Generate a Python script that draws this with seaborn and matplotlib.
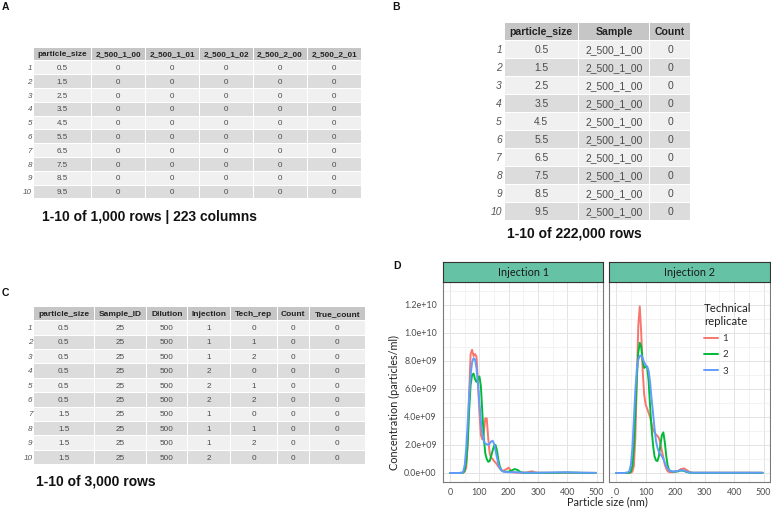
import matplotlib
matplotlib.use("Agg")
import matplotlib.pyplot as plt
import numpy as np
import pandas as pd
import seaborn as sns
from matplotlib.patches import Rectangle
from matplotlib.lines import Line2D
from matplotlib.ticker import MultipleLocator, FuncFormatter

W, H = 771, 511

# ---------------- Panel D data (concentration in units of 1e9 particles/ml) -----------
size_nm = [0, 10, 20, 30, 40, 45, 50, 55, 60, 65, 70, 75, 80, 85, 90, 95, 100, 105, 110,
           115, 120, 125, 130, 135, 140, 145, 150, 155, 160, 165, 170, 175, 180, 190, 200,
           210, 220, 230, 240, 250, 260, 270, 280, 290, 300, 350, 400, 450, 497]

inj1_rep1 = [0, 0, 0, 0, 0.01, 0.03, 0.1, 0.4, 2.0, 5.8, 8.5, 8.8, 8.35, 8.5, 8.3, 6.5, 4.3,
             2.7, 2.4, 2.9, 3.9, 3.9, 2.5, 1.4, 1.1, 1.0, 0.85, 0.75, 0.6, 0.45, 0.3, 0.2,
             0.15, 0.25, 0.38, 0.08, 0.03, 0.02, 0.02, 0.02, 0.03, 0.08, 0.12, 0.04, 0.02,
             0.01, 0.02, 0.01, 0.01]
inj1_rep2 = [0, 0, 0, 0, 0.01, 0.03, 0.2, 0.8, 2.2, 4.5, 6.3, 7.0, 7.1, 6.7, 6.5, 6.7, 6.9,
             6.2, 4.3, 2.5, 1.4, 1.0, 0.8, 0.85, 1.2, 1.6, 1.95, 2.0, 1.6, 0.9, 0.45, 0.2,
             0.12, 0.08, 0.1, 0.18, 0.28, 0.22, 0.06, 0.02, 0.01, 0.01, 0.01, 0.01, 0.01,
             0.01, 0.03, 0.01, 0]
inj1_rep3 = [0, 0, 0, 0, 0.02, 0.1, 0.6, 1.8, 3.6, 5.5, 7.0, 7.9, 8.2, 8.1, 7.5, 6.4, 5.0,
             3.7, 2.8, 2.3, 2.1, 2.05, 2.0, 2.1, 2.25, 2.3, 2.1, 1.6, 1.1, 0.6, 0.35, 0.2,
             0.12, 0.07, 0.05, 0.05, 0.06, 0.05, 0.03, 0.02, 0.02, 0.02, 0.02, 0.02, 0.02,
             0.04, 0.05, 0.02, 0.01]
inj2_rep1 = [0, 0, 0, 0, 0, 0, 0.02, 0.1, 0.5, 2.5, 6.5, 10.5, 11.9, 10.0, 7.3, 5.6, 4.9,
             4.6, 4.3, 4.0, 3.5, 3.1, 2.9, 2.75, 2.65, 2.5, 2.1, 1.6, 1.1, 0.6, 0.3, 0.12,
             0.06, 0.05, 0.08, 0.15, 0.28, 0.33, 0.2, 0.05, 0.02, 0.02, 0.02, 0.02, 0.02,
             0.02, 0.02, 0.02, 0.01]
inj2_rep2 = [0, 0, 0, 0, 0.01, 0.02, 0.1, 0.5, 1.8, 4.2, 6.8, 8.6, 9.3, 9.0, 8.0, 7.5, 7.6,
             7.6, 6.6, 4.8, 3.2, 2.0, 1.2, 0.9, 0.85, 1.2, 2.0, 2.7, 2.9, 2.2, 1.2, 0.5,
             0.2, 0.1, 0.1, 0.12, 0.18, 0.15, 0.06, 0.02, 0.01, 0.01, 0.01, 0.01, 0.01,
             0.01, 0.01, 0.01, 0.01]
inj2_rep3 = [0, 0, 0, 0.01, 0.05, 0.15, 0.6, 1.8, 3.8, 5.9, 7.4, 8.1, 8.35, 8.4, 8.2, 7.9,
             7.7, 7.6, 7.3, 6.5, 5.3, 4.3, 3.2, 2.3, 1.8, 1.5, 1.35, 1.2, 1.0, 0.75, 0.5,
             0.3, 0.18, 0.1, 0.12, 0.15, 0.2, 0.18, 0.08, 0.03, 0.02, 0.02, 0.02, 0.02,
             0.02, 0.02, 0.02, 0.02, 0.02]

injections = ["Injection 1", "Injection 2"]
replicates = ["1", "2", "3"]
rep_colors = ["#F8766D", "#00BA38", "#619CFF"]
y_label = "Concentration (particles/ml)"
x_label = "Particle size (nm)"

# ---------------- Table data ---------------------------------------------------------
row_numbers = ["1", "2", "3", "4", "5", "6", "7", "8", "9", "10"]

a_columns = ["particle_size", "2_500_1_00", "2_500_1_01", "2_500_1_02", "2_500_2_00", "2_500_2_01"]
a_particle_size = ["0.5", "1.5", "2.5", "3.5", "4.5", "5.5", "6.5", "7.5", "8.5", "9.5"]
a_counts = ["0", "0", "0", "0", "0", "0", "0", "0", "0", "0"]
a_caption = "1-10 of 1,000 rows | 223 columns"

b_columns = ["particle_size", "Sample", "Count"]
b_particle_size = ["0.5", "1.5", "2.5", "3.5", "4.5", "5.5", "6.5", "7.5", "8.5", "9.5"]
b_sample = ["2_500_1_00"] * 10
b_count = ["0", "0", "0", "0", "0", "0", "0", "0", "0", "0"]
b_caption = "1-10 of 222,000 rows"

c_columns = ["particle_size", "Sample_ID", "Dilution", "Injection", "Tech_rep", "Count", "True_count"]
c_particle_size = ["0.5", "0.5", "0.5", "0.5", "0.5", "0.5", "1.5", "1.5", "1.5", "1.5"]
c_sample_id = ["25", "25", "25", "25", "25", "25", "25", "25", "25", "25"]
c_dilution = ["500", "500", "500", "500", "500", "500", "500", "500", "500", "500"]
c_injection = ["1", "1", "1", "2", "2", "2", "1", "1", "1", "2"]
c_tech_rep = ["0", "1", "2", "0", "1", "2", "0", "1", "2", "0"]
c_count = ["0", "0", "0", "0", "0", "0", "0", "0", "0", "0"]
c_true_count = ["0", "0", "0", "0", "0", "0", "0", "0", "0", "0"]
c_caption = "1-10 of 3,000 rows"

# ---------------- Figure -------------------------------------------------------------
sns.set_theme(style="white")
plt.rcParams["font.family"] = ["Liberation Sans", "DejaVu Sans"]

fig = plt.figure(figsize=(W / 100, H / 100), dpi=100)
bg = fig.add_axes([0, 0, 1, 1])
bg.set_xlim(0, W)
bg.set_ylim(H, 0)
bg.axis("off")


def draw_table(col_edges, top, head_h, row_h, columns, cols_data, fs_h, fs_c, num_x, fs_n):
    for j, name in enumerate(columns):
        x0, x1 = col_edges[j], col_edges[j + 1]
        bg.add_patch(Rectangle((x0 + 0.5, top), x1 - x0 - 1, head_h - 1,
                               facecolor="#c6c6c6", edgecolor="none"))
        bg.text((x0 + x1) / 2, top + head_h / 2, name, ha="center", va="center",
                fontsize=fs_h, fontweight="bold", color="#222222")
    for i in range(len(row_numbers)):
        y0 = top + head_h + i * row_h
        face = "#f0f0f0" if i % 2 == 0 else "#dcdcdc"
        for j in range(len(columns)):
            x0, x1 = col_edges[j], col_edges[j + 1]
            bg.add_patch(Rectangle((x0 + 0.5, y0), x1 - x0 - 1, row_h - 1,
                                   facecolor=face, edgecolor="none"))
            bg.text((x0 + x1) / 2, y0 + row_h / 2, cols_data[j][i], ha="center",
                    va="center", fontsize=fs_c, color="#4a4a4a")
        bg.text(num_x, y0 + row_h / 2, row_numbers[i], ha="right", va="center",
                fontsize=fs_n, style="italic", color="#555555")


# Table A
draw_table([33, 91, 145, 199, 253, 307, 361], 48, 13.5, 13.8, a_columns,
           [a_particle_size, a_counts, a_counts, a_counts, a_counts, a_counts],
           5.9, 5.8, 32, 5.8)
bg.text(42, 217, a_caption, ha="left", va="center", fontsize=10, fontweight="bold", color="#111111")

# Table B
draw_table([504, 578.7, 649.3, 690.7], 23, 18, 18, b_columns,
           [b_particle_size, b_sample, b_count], 7.6, 7.4, 502, 7.4)
bg.text(574.5, 234, b_caption, ha="center", va="center", fontsize=10, fontweight="bold", color="#111111")

# Table C
draw_table([33.7, 94, 146.7, 187, 230, 277.3, 309.3, 365.3], 307, 14.3, 14.4, c_columns,
           [c_particle_size, c_sample_id, c_dilution, c_injection, c_tech_rep, c_count, c_true_count],
           6.0, 5.9, 32.5, 5.9)
bg.text(36, 482, c_caption, ha="left", va="center", fontsize=10, fontweight="bold", color="#111111")

# Panel letters
for letter, (lx, ly) in zip(["A", "B", "C", "D"], [(2, 7), (392, 7), (2, 293), (393, 266)]):
    bg.text(lx, ly, letter, ha="left", va="center", fontsize=7.5, fontweight="bold", color="#111111")

# ---------------- Panel D ------------------------------------------------------------
rows = []
series = {("Injection 1", "1"): inj1_rep1, ("Injection 1", "2"): inj1_rep2,
          ("Injection 1", "3"): inj1_rep3, ("Injection 2", "1"): inj2_rep1,
          ("Injection 2", "2"): inj2_rep2, ("Injection 2", "3"): inj2_rep3}
for (inj, rep), vals in series.items():
    for s, v in zip(size_nm, vals):
        rows.append({"Injection": inj, "Technical replicate": rep,
                     "Particle size": s, "Concentration": v * 1e9})
df = pd.DataFrame(rows)


def px_rect(x0, y0, x1, y1):
    return [x0 / W, 1 - y1 / H, (x1 - x0) / W, (y1 - y0) / H]


FONT_D = ["Lato", "DejaVu Sans"]
panel_px = [(443, 603), (609, 770)]
axes = []
for k, inj in enumerate(injections):
    x0, x1 = panel_px[k]
    ax = fig.add_axes(px_rect(x0, 282, x1, 482))
    sax = fig.add_axes(px_rect(x0, 262, x1, 282))
    sns.lineplot(data=df[df["Injection"] == inj], x="Particle size", y="Concentration",
                 hue="Technical replicate", hue_order=replicates, palette=rep_colors,
                 estimator=None, sort=False, linewidth=1.4, legend=False, ax=ax)
    ax.set_xlim(-24.3, 521.8)
    ax.set_ylim(-0.643e9, 13.64e9)
    ax.set_facecolor("white")
    ax.xaxis.set_major_locator(MultipleLocator(100))
    ax.xaxis.set_minor_locator(MultipleLocator(50))
    ax.yaxis.set_major_locator(MultipleLocator(2e9))
    ax.yaxis.set_minor_locator(MultipleLocator(1e9))
    ax.grid(which="major", color="#e4e4e4", linewidth=0.7)
    ax.grid(which="minor", color="#efefef", linewidth=0.5)
    ax.set_axisbelow(True)
    for sp in ax.spines.values():
        sp.set_visible(True)
        sp.set_color("#7a7a7a")
        sp.set_linewidth(0.8)
    ax.set_xlabel("")
    ax.set_ylabel("")
    ax.tick_params(axis="both", which="minor", length=0)
    ax.tick_params(axis="x", which="major", length=2.5, width=0.6, color="#444444",
                   labelsize=6.4, labelcolor="#4d4d4d", pad=2)
    for t in ax.get_xticklabels():
        t.set_family(FONT_D)
    if k == 0:
        ax.yaxis.set_major_formatter(FuncFormatter(lambda v, p: f"{v:.1e}"))
        ax.tick_params(axis="y", which="major", length=2.5, width=0.6, color="#444444",
                       labelsize=6.4, labelcolor="#4d4d4d", pad=2)
        for t in ax.get_yticklabels():
            t.set_family(FONT_D)
    else:
        ax.tick_params(axis="y", which="major", length=0, labelleft=False)
    # strip
    sax.set_xticks([])
    sax.set_yticks([])
    sax.set_facecolor("#66c2a5")
    for sp in sax.spines.values():
        sp.set_color("#333333")
        sp.set_linewidth(0.8)
    sax.text(0.5, 0.45, inj, transform=sax.transAxes, ha="center", va="center",
             fontsize=7.8, color="#1a1a1a", family=FONT_D)
    axes.append(ax)

# legend
handles = [Line2D([0], [0], color=c, lw=1.4) for c in rep_colors]
leg = axes[1].legend(handles, replicates, title="Technical\nreplicate", frameon=False,
                     loc="upper left", bbox_to_anchor=(704 / W, 1 - 303 / H),
                     bbox_transform=fig.transFigure, fontsize=7, title_fontsize=8.2,
                     handlelength=1.4, handletextpad=0.5, labelspacing=0.75,
                     alignment="left", borderaxespad=0, borderpad=0)
for t in leg.get_texts():
    t.set_family(FONT_D)
    t.set_color("#333333")
leg.get_title().set_family(FONT_D)
leg.get_title().set_color("#222222")

fig.text(607 / W, 1 - 502 / H, x_label, ha="center", va="center", fontsize=7.8,
         family=FONT_D, color="#222222")
fig.text(394 / W, 1 - 402 / H, y_label, ha="center", va="center", rotation=90,
         fontsize=7.8, family=FONT_D, color="#222222")

fig.savefig("out.png", dpi=100)
